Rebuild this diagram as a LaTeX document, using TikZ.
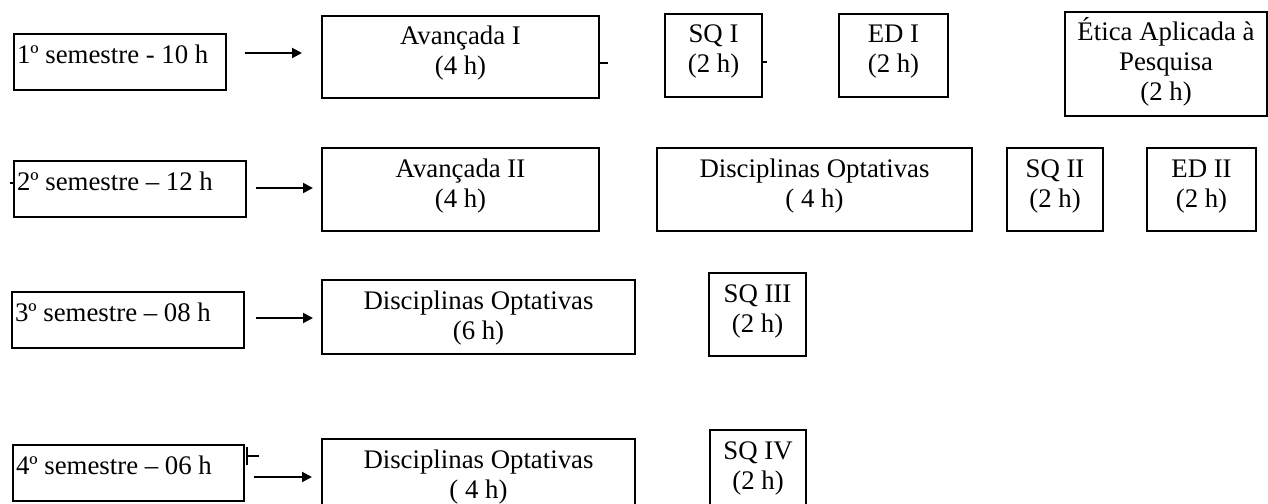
\documentclass[tikz,border=0pt]{standalone}
\usepackage{fontspec}
\setmainfont{Liberation Serif}
\usetikzlibrary{arrows.meta}
\tikzset{
  boxst/.style={draw, line width=1.6pt, inner sep=0pt, outer sep=0pt, anchor=north west},
  arr/.style={line width=2pt, -{Triangle[length=10pt,width=10pt]}},
  tickst/.style={line width=1.1pt},
}
\newcommand\mkbox[7]{%
  \pgfmathsetmacro\mkbw{#4-#2}\pgfmathsetmacro\mkbh{#5-#3}%
  \node[boxst, minimum width=\mkbw pt, minimum height=\mkbh pt] (#1) at (#2,#3)
   {\parbox[c][\mkbh pt][t]{\mkbw pt}{\fontsize{26.8}{30}\selectfont#6\rule{0pt}{29pt}#7}};}
\begin{document}
\begin{tikzpicture}[x=1pt,y=-1pt]
\clip (0,0) rectangle (1268,503);
\fill[white] (0,0) rectangle (1268,503);
% row 1
\mkbox{s1}{14}{34}{226}{90}{\raggedright\hspace*{3pt}}{1º semestre - 10 h}
\mkbox{av1}{322}{16}{599}{98}{\centering}{Avançada I\\(4 h)}
\mkbox{sq1}{665}{14}{762}{97}{\centering}{SQ I\\(2 h)}
\mkbox{ed1}{839}{14}{948}{97}{\centering}{ED I\\(2 h)}
\mkbox{eti}{1065}{12}{1267}{116}{\centering}{Ética Aplicada à\\Pesquisa\\(2 h)}
% row 2
\mkbox{s2}{14}{161}{246}{217}{\raggedright\hspace*{3pt}}{2º semestre – 12 h}
\mkbox{av2}{322}{148}{599}{231}{\centering}{Avançada II\\(4 h)}
\mkbox{do2}{657}{148}{972}{231}{\centering}{Disciplinas Optativas\\( 4 h)}
\mkbox{sq2}{1007}{148}{1103}{231}{\centering}{SQ II\\(2 h)}
\mkbox{ed2}{1147}{148}{1256}{231}{\centering}{ED II\\(2 h)}
% row 3
\mkbox{s3}{12}{292}{244}{348}{\raggedright\hspace*{3pt}}{3º semestre – 08 h}
\mkbox{do3}{322}{280}{635}{354}{\centering}{Disciplinas Optativas\\(6 h)}
\mkbox{sq3}{709}{273}{806}{356}{\centering}{SQ III\\(2 h)}
% row 4
\mkbox{s4}{13}{445}{244}{501}{\raggedright\hspace*{3pt}}{4º semestre – 06 h}
\mkbox{do4}{322}{439}{635}{520}{\centering}{Disciplinas Optativas\\( 4 h)}
\mkbox{sq4}{710}{430}{806}{520}{\centering}{SQ IV\\(2 h)}
% arrows
\coordinate (a1) at (245,53);
\coordinate (a2) at (256,188);
\coordinate (a3) at (256,318);
\coordinate (a4) at (254,477);
\draw[arr, shorten >=20pt] (a1) -- (a1 -| av1.west);
\draw[arr, shorten >=9pt] (a2) -- (a2 -| av2.west);
\draw[arr, shorten >=9pt] (a3) -- (a3 -| do3.west);
\draw[arr, shorten >=10pt] (a4) -- (a4 -| do4.west);
% small stray ticks
\draw[line width=2.6pt] (av1.east |- 0,55) -- (av1.east |- 0,71);
\draw[tickst] (av1.east |- 0,63) -- ++(9,0);
\draw[tickst] (sq1.east |- 0,62) -- ++(5,0);
\draw[tickst] (s2.west |- 0,183) -- ++(-4,0);
\coordinate (p4) at (247,456);
\draw[tickst] (p4 |- 0,447) -- (p4 |- 0,465);
\draw[tickst] (p4) -- ++(12,0);
\end{tikzpicture}
\end{document}
